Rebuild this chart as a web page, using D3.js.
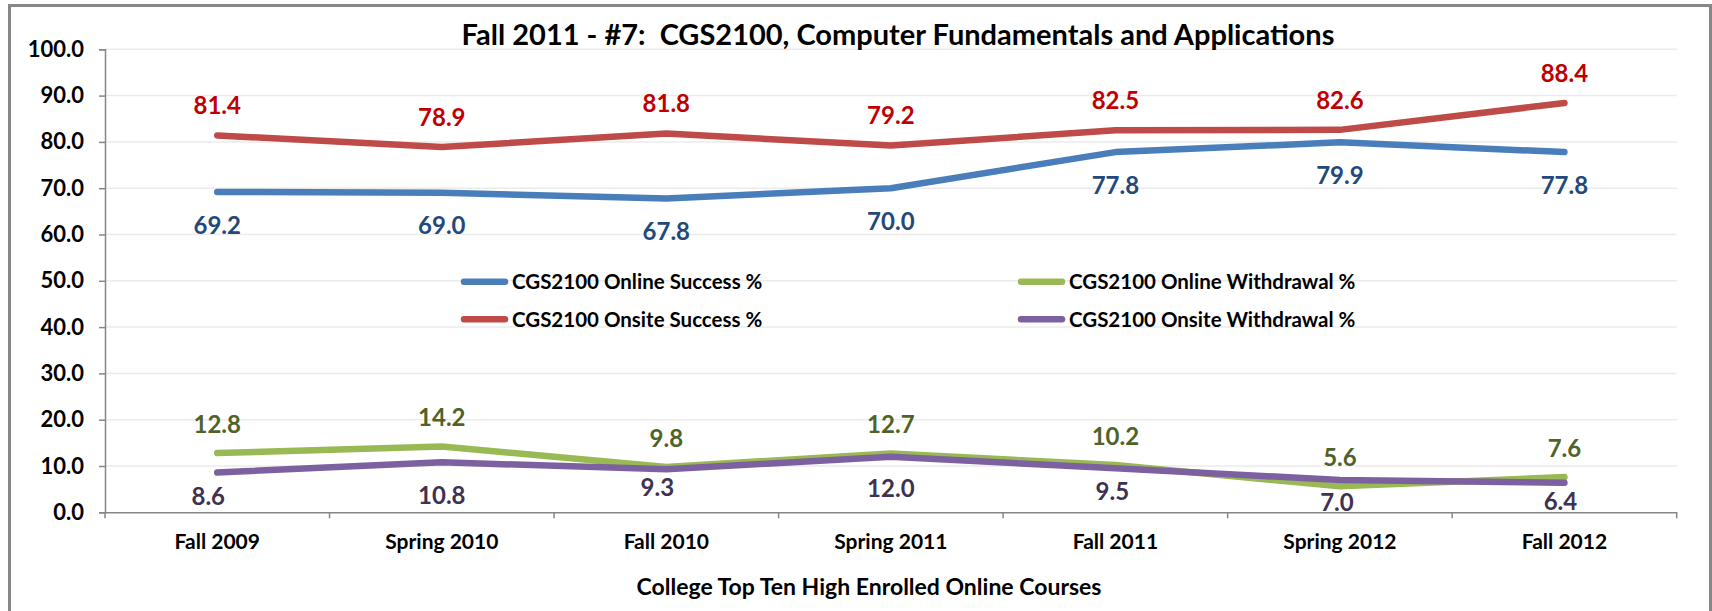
<!DOCTYPE html>
<html>
<head>
<meta charset="utf-8">
<script src="https://cdn.jsdelivr.net/npm/d3@7/dist/d3.min.js"></script>
<style>
  body { margin: 0; background: #fff; }
  text { font-family: Lato, "Open Sans", sans-serif; font-weight: bold; }
</style>
</head>
<body>
<div id="container"></div>
<script>
// data
let terms = ["Fall 2009", "Spring 2010", "Fall 2010", "Spring 2011", "Fall 2011", "Spring 2012", "Fall 2012"];
let onlineSuccess = [69.2, 69.0, 67.8, 70.0, 77.8, 79.9, 77.8];
let onlineWithdrawal = [12.8, 14.2, 9.8, 12.7, 10.2, 5.6, 7.6];
let onsiteSuccess = [81.4, 78.9, 81.8, 79.2, 82.5, 82.6, 88.4];
let onsiteWithdrawal = [8.6, 10.8, 9.3, 12.0, 9.5, 7.0, 6.4];
let seriesNames = ["CGS2100 Online Success %", "CGS2100 Online Withdrawal %",
                   "CGS2100 Onsite Success %", "CGS2100 Onsite Withdrawal %"];
let yTicks = [0, 10, 20, 30, 40, 50, 60, 70, 80, 90, 100];

let chartTitle = "Fall 2011 - #7:  CGS2100, Computer Fundamentals and Applications";
let xTitle = "College Top Ten High Enrolled Online Courses";

// label placement (pixels, relative to the point)
let purpleDy = [24, 33, 18, 32, 23, 22, 19];
let purpleDx = [-9, 0, -9, 0, -3, -3, -4];

let series = [
  {name: seriesNames[0], values: onlineSuccess, line: "#4A7EBB", label: "#23497A", dy: () => 33, dx: () => 0},
  {name: seriesNames[1], values: onlineWithdrawal, line: "#98B954", label: "#4F6228", dy: () => -29, dx: () => 0},
  {name: seriesNames[2], values: onsiteSuccess, line: "#BE4B48", label: "#C00000", dy: () => -30, dx: () => 0},
  {name: seriesNames[3], values: onsiteWithdrawal, line: "#7D60A0", label: "#3F3151", dy: i => purpleDy[i], dx: i => purpleDx[i]}
];

let svg = d3.select("#container")
  .append("svg")
  .attr("width", 1712)
  .attr("height", 611);

// outer frame
svg.append("rect")
  .attr("x", 9.5)
  .attr("y", 5.5)
  .attr("width", 1701)
  .attr("height", 640)
  .attr("fill", "none")
  .attr("stroke", "#878787")
  .attr("stroke-width", 3);

let plotLeft = 105, plotRight = 1676.7, plotTop = 49.3, plotBottom = 512.3;

let x = d3.scaleBand().domain(terms).range([plotLeft, plotRight]);
let y = d3.scaleLinear().domain([0, 100]).range([plotBottom, plotTop]);

// gridlines
svg.append("g")
  .selectAll("line")
  .data(yTicks.filter(d => d > 0))
  .enter()
  .append("line")
  .attr("x1", plotLeft)
  .attr("x2", plotRight)
  .attr("y1", d => y(d))
  .attr("y2", d => y(d))
  .attr("stroke", "#EBEBEB")
  .attr("stroke-width", 1.5);

// y axis
let yAxis = svg.append("g")
  .attr("transform", "translate(" + plotLeft + ",0)")
  .call(d3.axisLeft(y).tickValues(yTicks).tickFormat(d3.format(".1f")).tickSize(6).tickPadding(15));
yAxis.selectAll("path, line").attr("stroke", "#868686").attr("stroke-width", 1.5);
yAxis.selectAll("text").attr("font-size", 22).attr("fill", "#000")
  .style("font-family", "Lato").style("font-weight", "bold");

// x axis
let xAxis = svg.append("g")
  .attr("transform", "translate(0," + plotBottom + ")")
  .call(d3.axisBottom(x).tickSize(0).tickPadding(22));
xAxis.select(".domain").attr("stroke", "#868686").attr("stroke-width", 1.5);
xAxis.selectAll("text").attr("font-size", 21).attr("fill", "#000")
  .style("font-family", "Lato").style("font-weight", "bold");

// category boundary ticks
xAxis.selectAll(".bound")
  .data(terms.map(t => x(t)).concat([x.range()[1]]))
  .enter()
  .append("line")
  .attr("class", "bound")
  .attr("x1", d => d)
  .attr("x2", d => d)
  .attr("y1", 0)
  .attr("y2", 6)
  .attr("stroke", "#868686")
  .attr("stroke-width", 1.5);

let cx = d => x(d) + x.bandwidth() / 2;

let line = d3.line()
  .x((d, i) => cx(terms[i]))
  .y(d => y(d));

series.forEach(function(s) {
  svg.append("path")
    .datum(s.values)
    .attr("d", line)
    .attr("fill", "none")
    .attr("stroke", s.line)
    .attr("stroke-width", 6.5)
    .attr("stroke-linejoin", "round")
    .attr("stroke-linecap", "round");
});

series.forEach(function(s) {
  svg.append("g")
    .selectAll("text")
    .data(s.values)
    .enter()
    .append("text")
    .text(d => d.toFixed(1))
    .attr("x", (d, i) => cx(terms[i]) + s.dx(i))
    .attr("y", (d, i) => y(d) + s.dy(i))
    .attr("dy", "0.36em")
    .attr("text-anchor", "middle")
    .attr("font-size", 24)
    .attr("fill", s.label);
});

// legend
let legendCols = [461, 1018];
let legendRows = [281.7, 319.3];
let legend = svg.append("g")
  .selectAll("g")
  .data(series)
  .enter()
  .append("g")
  .attr("transform", (d, i) => "translate(" + legendCols[i % 2] + "," + legendRows[Math.floor(i / 2)] + ")");
legend.append("line")
  .attr("x1", 3)
  .attr("x2", 44)
  .attr("stroke", d => d.line)
  .attr("stroke-width", 6.5)
  .attr("stroke-linecap", "round");
legend.append("text")
  .text(d => d.name)
  .attr("x", 51)
  .attr("dy", "0.36em")
  .attr("font-size", 20.5)
  .attr("fill", "#000");

// titles
svg.append("text")
  .text(chartTitle)
  .attr("x", 898)
  .attr("y", 45)
  .attr("text-anchor", "middle")
  .attr("font-size", 29)
  .style("white-space", "pre")
  .attr("fill", "#000");

svg.append("text")
  .text(xTitle)
  .attr("x", 869)
  .attr("y", 595)
  .attr("text-anchor", "middle")
  .attr("font-size", 23)
  .attr("fill", "#000");
</script>
</body>
</html>
